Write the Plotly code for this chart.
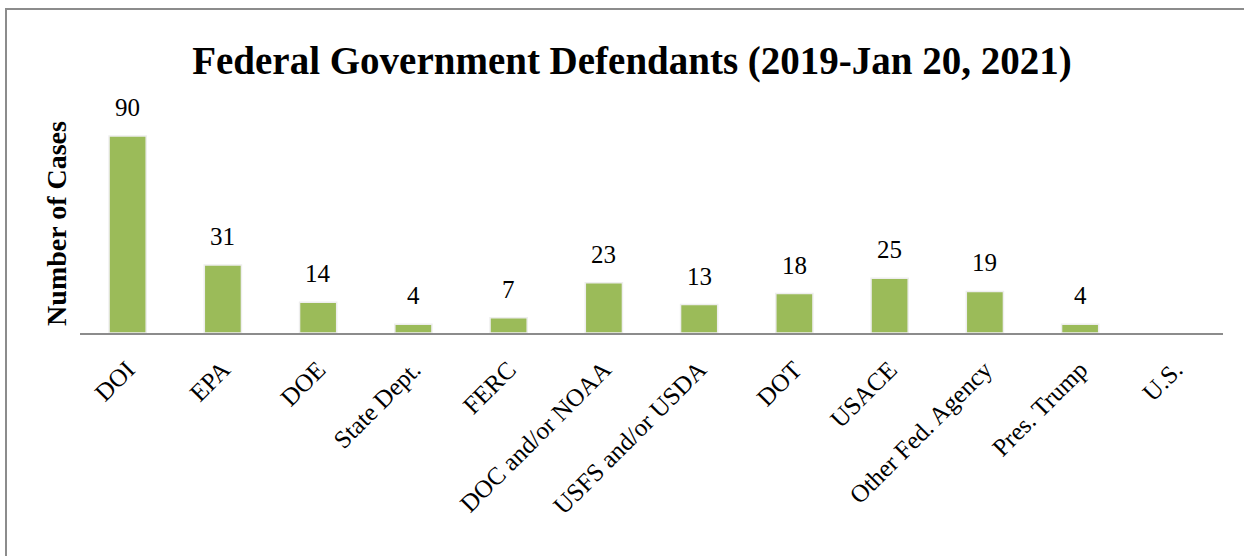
import plotly.graph_objects as go

categories = ["DOI", "EPA", "DOE", "State Dept.", "FERC", "DOC and/or NOAA",
              "USFS and/or USDA", "DOT", "USACE", "Other Fed. Agency",
              "Pres. Trump", "U.S."]
cases = [90, 31, 14, 4, 7, 23, 13, 18, 25, 19, 4, None]

FONT = "Liberation Serif, DejaVu Serif, serif"

W, H = 1244, 556
plot_left, plot_right, plot_top, plot_bottom = 80, 1223, 114, 333
ml, mr, mt, mb = plot_left, W - plot_right, plot_top, H - plot_bottom
pw, ph = W - ml - mr, H - mt - mb

fig = go.Figure()
fig.add_trace(go.Bar(
    x=categories, y=cases,
    marker=dict(color="#9BBB59", line=dict(color="#eeeeee", width=1.5)),
    cliponaxis=False, hoverinfo="x+y",
))

# value labels above bars
for cat, val in zip(categories, cases):
    if val is None:
        continue
    fig.add_annotation(x=cat, y=val, text=str(val), showarrow=False,
                       yanchor="bottom", yshift=13,
                       font=dict(family=FONT, size=25, color="#000"))

fig.update_layout(
    width=W, height=H,
    margin=dict(l=ml, r=mr, t=mt, b=mb),
    paper_bgcolor="white", plot_bgcolor="white",
    bargap=0.61,
    showlegend=False,
    title=dict(text="<b>Federal Government Defendants (2019-Jan 20, 2021)</b>",
               x=632 / W, xanchor="center", y=1 - 60 / H, yanchor="middle",
               font=dict(family=FONT, size=39, color="#000")),
    xaxis=dict(tickangle=-45, tickfont=dict(family=FONT, size=25, color="#000"),
               showline=True, linecolor="#8c8c8c", linewidth=2, ticks="",
               ticklabelstandoff=10, showgrid=False),
    yaxis=dict(range=[0, 100], showticklabels=False, showgrid=False,
               zeroline=False, showline=False,
               title=dict(text="<b>Number of Cases</b>", standoff=4,
                          font=dict(family=FONT, size=28, color="#000"))),
    shapes=[dict(type="rect", xref="paper", yref="paper",
                 x0=(6 - ml) / pw, x1=(W + 20 - ml) / pw,
                 y0=(plot_bottom - (H + 20)) / ph, y1=(plot_bottom - 9) / ph,
                 line=dict(color="#8c8c8c", width=2), layer="below")],
)

fig.write_html("out.html", config={"displayModeBar": False},
               post_script="document.body.style.margin='0';")
